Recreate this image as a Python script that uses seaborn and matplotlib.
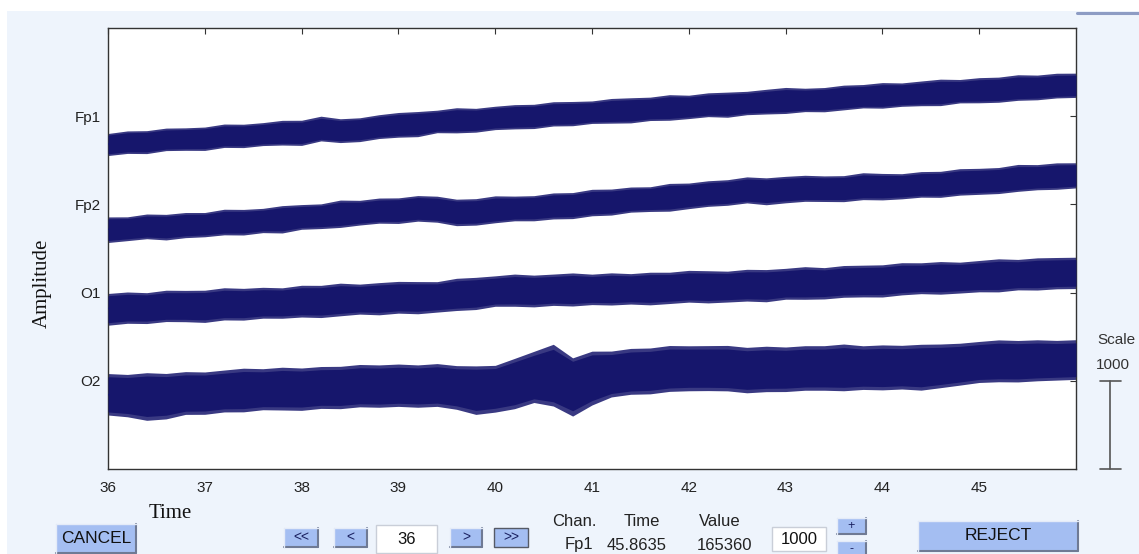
import numpy as np
import pandas as pd
import matplotlib
matplotlib.use("Agg")
import matplotlib.pyplot as plt
import matplotlib.transforms as mtransforms
from matplotlib.patches import Rectangle
from matplotlib.lines import Line2D
import seaborn as sns

# ---------------- data (µV, relative to each channel's baseline) ----------------
channels = ["Fp1", "Fp2", "O1", "O2"]
offsets = [4000, 3000, 2000, 1000]          # eegplot spacing = 1000
x_ticks = [36, 37, 38, 39, 40, 41, 42, 43, 44, 45]
time_s = np.round(np.arange(36.0, 46.001, 0.2), 1)   # 51 sample points

fp1_mid = [-316, -302, -289, -275, -262, -248, -234, -221, -208, -197, -186, -160, -164, -148, -128,
           -108, -87, -67, -54, -41, -27, -14, 0, 14, 27, 38, 51, 64, 76, 89, 103, 115, 128, 142, 155,
           166, 177, 190, 202, 214, 226, 237, 249, 260, 271, 282, 293, 305, 316, 327, 338]
fp1_up = [120, 135, 125, 140, 130, 125, 145, 130, 135, 150, 140, 160, 135, 130, 145, 150, 140, 135, 150,
          130, 140, 145, 135, 150, 140, 135, 150, 145, 140, 155, 135, 150, 145, 140, 150, 160, 140, 135,
          150, 145, 155, 140, 150, 160, 145, 155, 150, 165, 150, 160, 150]
fp1_lo = [130, 120, 135, 115, 125, 140, 120, 135, 125, 130, 145, 120, 135, 140, 125, 130, 145, 120, 135,
          140, 125, 130, 140, 125, 135, 120, 130, 140, 125, 135, 130, 120, 140, 125, 130, 135, 125, 140,
          130, 120, 135, 125, 130, 140, 120, 130, 135, 125, 130, 120, 125]

fp2_mid = [-282, -271, -259, -248, -237, -222, -210, -197, -180, -164, -147, -129, -111, -94, -78, -61,
           -45, -62, -81, -85, -68, -51, -36, -20, -6, 11, 29, 47, 65, 83, 102, 118, 135, 152, 161, 168,
           175, 178, 186, 194, 201, 208, 217, 230, 245, 259, 273, 288, 301, 316, 327]
fp2_up = [140, 130, 150, 135, 145, 130, 155, 140, 135, 150, 145, 135, 160, 140, 150, 135, 145, 155, 140,
          150, 165, 145, 135, 150, 140, 160, 145, 150, 135, 155, 140, 150, 145, 160, 140, 150, 155, 145,
          140, 165, 150, 140, 155, 145, 160, 150, 145, 165, 150, 155, 145]
fp2_lo = [150, 140, 130, 155, 140, 145, 135, 150, 140, 160, 135, 145, 150, 140, 135, 155, 145, 140, 160,
          150, 140, 135, 150, 145, 155, 140, 150, 135, 145, 160, 150, 140, 145, 135, 165, 150, 140, 145,
          155, 140, 150, 145, 135, 150, 140, 145, 150, 140, 135, 145, 140]

o1_mid = [-180, -173, -166, -158, -150, -143, -135, -127, -120, -111, -102, -93, -83, -74, -67, -58,
          -50, -41, -28, -7, 15, 25, 28, 30, 33, 34, 39, 45, 51, 56, 62, 68, 73, 79, 86, 95, 104, 113,
          122, 131, 140, 149, 158, 167, 175, 184, 193, 201, 209, 218, 226]
o1_up = [170, 180, 165, 185, 175, 170, 190, 175, 180, 165, 185, 175, 190, 170, 180, 185, 175, 165, 190,
         180, 175, 185, 170, 180, 190, 175, 185, 170, 180, 175, 190, 180, 170, 185, 175, 180, 190, 170,
         185, 180, 175, 190, 180, 185, 170, 180, 190, 175, 185, 180, 175]
o1_lo = [190, 175, 185, 170, 180, 195, 175, 185, 170, 180, 175, 190, 180, 170, 185, 175, 190, 180, 175,
         185, 170, 180, 190, 175, 185, 170, 180, 175, 190, 180, 170, 185, 180, 175, 190, 170, 180, 185,
         175, 180, 190, 175, 170, 185, 180, 175, 185, 170, 180, 175, 180]

o2_mid = [-158, -158, -158, -152, -141, -130, -118, -107, -98, -91, -85, -78, -71, -65, -60, -55, -50,
          -45, -63, -81, -65, -16, 34, 34, 0, 56, 77, 97, 117, 135, 147, 139, 131, 124, 127, 133, 138,
          143, 147, 147, 147, 147, 149, 167, 186, 211, 214, 217, 220, 223, 226]
o2_up = [240, 230, 250, 235, 245, 230, 240, 250, 235, 245, 230, 240, 235, 250, 240, 245, 230, 240, 235,
         250, 240, 270, 300, 380, 260, 280, 260, 270, 255, 265, 250, 260, 270, 255, 265, 250, 260, 255,
         270, 250, 260, 255, 265, 250, 240, 235, 250, 240, 245, 235, 240]
o2_lo = [230, 250, 290, 280, 240, 250, 235, 245, 230, 240, 250, 235, 245, 230, 240, 235, 250, 245, 260,
         300, 290, 300, 280, 320, 400, 330, 260, 250, 265, 255, 260, 250, 245, 260, 250, 255, 245, 250,
         260, 245, 250, 240, 255, 245, 235, 230, 225, 230, 220, 215, 210]

mids = [fp1_mid, fp2_mid, o1_mid, o2_mid]
ups = [fp1_up, fp2_up, o1_up, o2_up]
los = [fp1_lo, fp2_lo, o1_lo, o2_lo]

# long table for seaborn
rows = []
for ch, off, m in zip(channels, offsets, mids):
    for t, v in zip(time_s, m):
        rows.append({"time": t, "channel": ch, "level": off + v})
df = pd.DataFrame(rows)

# ---------------- figure ----------------
W, H = 1139, 554
sns.set_theme(style="white")
plt.rcParams['font.family'] = ['Liberation Sans', 'DejaVu Sans']

fig = plt.figure(figsize=(W / 100, H / 100), dpi=100)
fig.patch.set_facecolor("white")

def fx(x):
    return x / W

def fy(y):
    return 1 - y / H

# light-blue GUI panel
fig.add_artist(Rectangle((fx(7), 0), fx(W - 7), 1 - 11 / H, transform=fig.transFigure,
                         facecolor="#eef4fc", edgecolor="none", zorder=0))
fig.add_artist(Line2D([fx(1077), 1.0], [fy(13), fy(13)], transform=fig.transFigure,
                      color="#8d9cc4", lw=2.2))

ax = fig.add_axes([fx(108), fy(469), fx(968), 441 / H])
ax.set_facecolor("white")

navy = "#16166c"
for off, m, u, l in zip(offsets, mids, ups, los):
    m = np.array(m, float)
    u = np.array(u, float)
    l = np.array(l, float)
    ax.fill_between(time_s, off + m - l, off + m + u, color=navy, alpha=0.85, lw=0, zorder=2)
    ax.fill_between(time_s, off + m - 0.85 * l, off + m + 0.85 * u, color=navy, lw=0, zorder=3)

sns.lineplot(data=df, x="time", y="level", hue="channel", palette=[navy] * 4,
             legend=False, lw=1.0, ax=ax, zorder=4, estimator=None)

ax.set_xlim(36, 46)
ax.set_ylim(0, 5000)
ax.set_xticks(x_ticks)
ax.set_xticklabels([str(v) for v in x_ticks])
ax.set_yticks(offsets)
ax.set_yticklabels(channels)
ax.set_xlabel("")
ax.set_ylabel("")
ax.tick_params(axis="both", direction="in", length=4, width=0.8, colors="#333333",
               top=True, right=True, labelsize=11)
ax.tick_params(axis="x", pad=9, labelcolor="#222222")
ax.tick_params(axis="y", pad=5, labelcolor="#222222")
for s in ax.spines.values():
    s.set_color("#333333")
    s.set_linewidth(1.0)

# axis titles (serif, as in the GUI)
fig.text(fx(170), fy(513), "Time", fontsize=15, family=["Liberation Serif"], color="#111111",
         ha="center", va="center")
fig.text(fx(42), fy(283), "Amplitude", fontsize=15, family=["Liberation Serif"], color="#111111",
         ha="center", va="center", rotation=90)

# scale bar (1000 units)
tr = mtransforms.blended_transform_factory(ax.transAxes, ax.transData)
xb = (1110 - 108) / 968
xc0, xc1 = (1100 - 108) / 968, (1121 - 108) / 968
ax.plot([xb, xb], [0, 1000], color="#555555", lw=1.2, transform=tr, clip_on=False)
ax.plot([xc0, xc1], [0, 0], color="#555555", lw=1.2, transform=tr, clip_on=False)
ax.plot([xc0, xc1], [1000, 1000], color="#555555", lw=1.2, transform=tr, clip_on=False)
fig.text(fx(1116), fy(340), "Scale", fontsize=11, color="#333333", ha="center", va="center")
fig.text(fx(1113), fy(365), "1000", fontsize=11, color="#333333", ha="center", va="center")

# ---------------- GUI controls ----------------
def button(x0, y0, x1, y1, text, fs=11, face="#a4bef2", txtcolor="#111111", edge_all=None):
    fig.add_artist(Rectangle((fx(x0), fy(y1)), fx(x1 - x0), (y1 - y0) / H,
                             transform=fig.transFigure, facecolor=face,
                             edgecolor=edge_all if edge_all else "none", lw=1.0, zorder=2))
    if edge_all is None:
        fig.add_artist(Line2D([fx(x0), fx(x1)], [fy(y1), fy(y1)], transform=fig.transFigure,
                              color="#6f7a94", lw=1.5, zorder=3))
        fig.add_artist(Line2D([fx(x1), fx(x1)], [fy(y0), fy(y1)], transform=fig.transFigure,
                              color="#6f7a94", lw=1.5, zorder=3))
        fig.add_artist(Line2D([fx(x0), fx(x1)], [fy(y0), fy(y0)], transform=fig.transFigure,
                              color="#e4ebf8", lw=1.0, zorder=3))
        fig.add_artist(Line2D([fx(x0), fx(x0)], [fy(y0), fy(y1)], transform=fig.transFigure,
                              color="#e4ebf8", lw=1.0, zorder=3))
    fig.text(fx((x0 + x1) / 2), fy((y0 + y1) / 2), text, fontsize=fs, color=txtcolor,
             ha="center", va="center", zorder=4)

button(56, 524, 136, 553, "CANCEL", fs=12.5)
button(284, 528, 318, 547, "<<", fs=10, txtcolor="#1a2060")
button(334, 528, 367, 547, "<", fs=10, txtcolor="#1a2060")
button(376, 525, 437, 553, "36", fs=12, face="white", edge_all="#c9ced8")
button(450, 528, 482, 547, ">", fs=10, txtcolor="#1a2060")
button(494, 528, 528, 547, ">>", fs=10, txtcolor="#1a2060", edge_all="#555a66")
button(772, 527, 826, 551, "1000", fs=12, face="white", edge_all="#c9ced8")
button(837, 518, 866, 534, "+", fs=9, txtcolor="#1a2060")
button(837, 541, 866, 557, "-", fs=9, txtcolor="#1a2060")
button(918, 521, 1078, 551, "REJECT", fs=12.5)

for x, s in [(574, "Chan."), (642, "Time"), (720, "Value")]:
    fig.text(fx(x), fy(521), s, fontsize=12, color="#222222", ha="center", va="center")
for x, s in [(579, "Fp1"), (637, "45.8635"), (725, "165360")]:
    fig.text(fx(x), fy(545), s, fontsize=12, color="#222222", ha="center", va="center")

fig.savefig("out.png", dpi=100, facecolor=fig.get_facecolor())
